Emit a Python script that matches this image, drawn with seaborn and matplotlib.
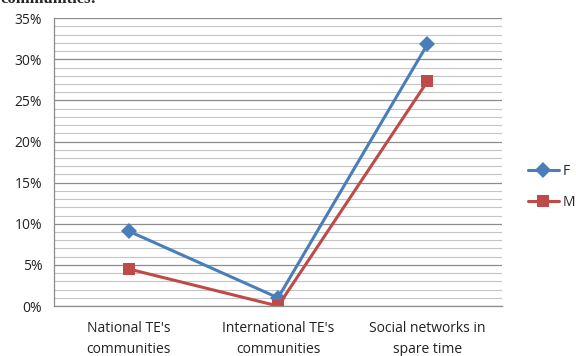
import numpy as np
import pandas as pd
import matplotlib
matplotlib.use("Agg")
import matplotlib.pyplot as plt
from matplotlib.ticker import MultipleLocator, PercentFormatter, FixedLocator
import seaborn as sns

# ── Data ─────────────────────────────────────────────────────
categories = ["National TE's\ncommunities", "International TE's\ncommunities",
              "Social networks in\nspare time"]
female = [9.1, 1.0, 31.8]
male = [4.5, 0.0, 27.3]
series = ["F", "M"]

df = pd.DataFrame({
    "cat": categories * 2,
    "pos": list(range(len(categories))) * 2,
    "value": female + male,
    "sex": ["F"] * len(categories) + ["M"] * len(categories),
})

sns.set_style("white")
plt.rcParams["font.family"] = ["Open Sans", "DejaVu Sans"]

fig = plt.figure(figsize=(5.76, 3.56), dpi=100)
ax = fig.add_axes([0.094, 0.1404, 0.7775, 0.8086])

palette = {"F": "#4A7EBB", "M": "#BE4B48"}
sns.lineplot(data=df, x="pos", y="value", hue="sex", style="sex",
             markers={"F": "D", "M": "s"}, dashes=False, palette=palette,
             linewidth=2.2, markersize=8, markeredgewidth=0, ax=ax,
             legend=False)

ax.set_xlim(-0.5, 2.5)
ax.set_ylim(0, 35)
ax.yaxis.set_major_locator(MultipleLocator(5))
ax.yaxis.set_minor_locator(MultipleLocator(1))
ax.yaxis.set_major_formatter(PercentFormatter(decimals=0))
ax.grid(which="major", axis="y", color="#8c8c8c", linewidth=0.9)
ax.grid(which="minor", axis="y", color="#c4c4c4", linewidth=0.8)
ax.set_axisbelow(True)

ax.set_xticks(range(len(categories)))
ax.set_xticklabels(categories, fontsize=10, color="#222222", linespacing=1.5)
ax.xaxis.set_minor_locator(FixedLocator([-0.5, 0.5, 1.5, 2.5]))
ax.tick_params(axis="x", which="major", length=0, pad=11)
ax.tick_params(axis="x", which="minor", length=5, color="#8c8c8c", width=0.9)
ax.tick_params(axis="y", which="major", length=5, color="#8c8c8c", width=0.9,
               labelsize=10, labelcolor="#222222")
ax.tick_params(axis="y", which="minor", length=0)
ax.set_xlabel("")
ax.set_ylabel("")

for side in ["top", "right"]:
    ax.spines[side].set_visible(False)
for side in ["left", "bottom"]:
    ax.spines[side].set_color("#8c8c8c")
    ax.spines[side].set_linewidth(0.9)

# legend at right
handles = [plt.Line2D([], [], color=palette[s], marker=m, markersize=8,
                      linewidth=2.2, markeredgewidth=0)
           for s, m in zip(series, ["D", "s"])]
fig.legend(handles, series, loc="center left", bbox_to_anchor=(0.895, 0.475),
           frameon=False, fontsize=10, handlelength=2.2, labelspacing=1.2,
           handletextpad=0.3)

# clipped heading line from the page above
fig.text(0.0, 1.002, "communities:", ha="left", va="center", fontsize=12,
         fontweight="bold", family=["Liberation Serif", "DejaVu Serif"])

fig.savefig("out.png", dpi=100)
